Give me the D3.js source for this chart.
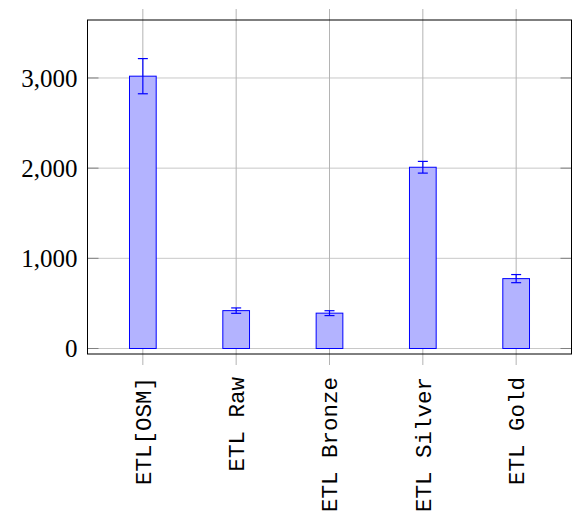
<html>
    <head>
        <title>ETL timings</title>
        <script type="text/javascript" src="https://d3js.org/d3.v7.min.js"></script>
        <style>
            body { margin: 0; background: #fff; }
        </style>
    </head>

    <body>
        <div id="my-viz"></div>

        <script type="text/javascript">
            // data
            var categories = ["ETL[OSM]", "ETL Raw", "ETL Bronze", "ETL Silver", "ETL Gold"];
            var values = [3020, 420, 392, 2010, 775];
            var errors = [195, 30, 27, 65, 45];
            var yTicks = [0, 1000, 2000, 3000];

            var w = 573;
            var h = 516;
            var margin = {top: 20, right: 1.5, bottom: 162, left: 87.5};
            var pw = w - margin.left - margin.right;
            var ph = h - margin.top - margin.bottom;

            var svg = d3.select("#my-viz")
                        .append("svg")
                        .attr("width", w)
                        .attr("height", h);

            var g = svg.append("g")
                       .attr("transform", "translate(" + margin.left + "," + margin.top + ")");

            var x = d3.scalePoint()
                      .domain(categories)
                      .range([0, pw])
                      .padding(0.593);

            var y = d3.scaleLinear()
                      .domain([-61, 3643])
                      .range([ph, 0]);

            var barW = 26.7;

            // grid
            g.selectAll(".hgrid")
                .data(yTicks)
                .enter()
                .append("line")
                .attr("x1", 0).attr("x2", pw)
                .attr("y1", function(d) { return y(d); })
                .attr("y2", function(d) { return y(d); })
                .attr("stroke", "#c8c8c8")
                .attr("stroke-width", 1);

            g.selectAll(".vgrid")
                .data(categories)
                .enter()
                .append("line")
                .attr("x1", function(d) { return x(d); })
                .attr("x2", function(d) { return x(d); })
                .attr("y1", -11).attr("y2", ph + 11)
                .attr("stroke", "#b4b4b4")
                .attr("stroke-width", 1);

            // y tick marks, inside on both sides
            yTicks.forEach(function(t) {
                g.append("line")
                    .attr("x1", 0).attr("x2", 11)
                    .attr("y1", y(t)).attr("y2", y(t))
                    .attr("stroke", "#808080").attr("stroke-width", 1);
                g.append("line")
                    .attr("x1", pw - 11).attr("x2", pw)
                    .attr("y1", y(t)).attr("y2", y(t))
                    .attr("stroke", "#808080").attr("stroke-width", 1);
            });

            // bars
            g.selectAll("rect.bar")
                .data(values)
                .enter()
                .append("rect")
                .attr("class", "bar")
                .attr("x", function(d, i) { return x(categories[i]) - barW / 2; })
                .attr("y", function(d) { return y(d); })
                .attr("width", barW)
                .attr("height", function(d) { return y(0) - y(d); })
                .attr("fill", "#b3b3ff")
                .attr("stroke", "#0000ff")
                .attr("stroke-width", 1);

            // error bars
            var eb = g.selectAll("g.err")
                .data(values)
                .enter()
                .append("g")
                .attr("class", "err")
                .attr("stroke", "#0000ff")
                .attr("stroke-width", 1.2);

            eb.append("line")
                .attr("x1", function(d, i) { return x(categories[i]); })
                .attr("x2", function(d, i) { return x(categories[i]); })
                .attr("y1", function(d, i) { return y(d + errors[i]); })
                .attr("y2", function(d, i) { return y(d - errors[i]); });

            [1, -1].forEach(function(s) {
                eb.append("line")
                    .attr("x1", function(d, i) { return x(categories[i]) - 5; })
                    .attr("x2", function(d, i) { return x(categories[i]) + 5; })
                    .attr("y1", function(d, i) { return y(d + s * errors[i]); })
                    .attr("y2", function(d, i) { return y(d + s * errors[i]); });
            });

            // frame
            g.append("rect")
                .attr("x", 0).attr("y", 0)
                .attr("width", pw).attr("height", ph)
                .attr("fill", "none")
                .attr("stroke", "#000")
                .attr("stroke-width", 1);

            // y labels
            g.selectAll(".ylab")
                .data(yTicks)
                .enter()
                .append("text")
                .attr("x", -10)
                .attr("y", function(d) { return y(d); })
                .attr("dy", "0.35em")
                .attr("text-anchor", "end")
                .attr("font-family", "'Liberation Serif', serif")
                .attr("font-size", 25)
                .text(function(d) { return d3.format(",")(d); });

            // x labels, rotated
            g.selectAll(".xlab")
                .data(categories)
                .enter()
                .append("text")
                .attr("transform", function(d) {
                    return "translate(" + x(d) + "," + (ph + 23) + ") rotate(-90)";
                })
                .attr("dy", "0.35em")
                .attr("text-anchor", "end")
                .attr("font-family", "'Liberation Mono', monospace")
                .attr("font-size", 22.5)
                .text(function(d) { return d; });
        </script>
    </body>
</html>
